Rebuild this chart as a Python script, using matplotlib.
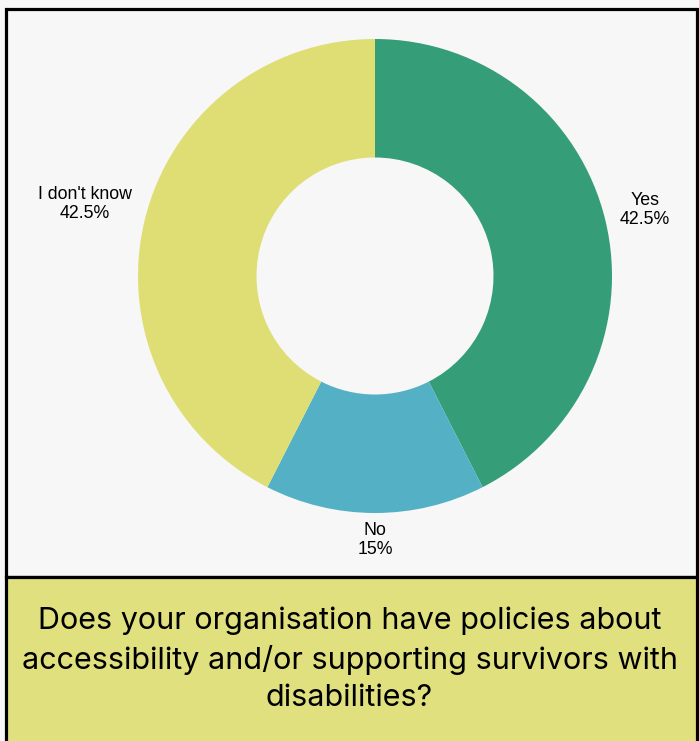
import matplotlib.pyplot as plt
from matplotlib.patches import Rectangle

labels = ["Yes", "No", "I don't know"]
values = [42.5, 15, 42.5]
colors = ["#359e78", "#54b0c5", "#dede74"]
pct_text = ["42.5%", "15%", "42.5%"]
question = "Does your organisation have policies about\naccessibility and/or supporting survivors with\ndisabilities?"

W, H = 699, 741
fig = plt.figure(figsize=(W / 100, H / 100), dpi=100, facecolor="#f7f7f7")

# panels (behind the donut axes)
fig.patches.append(Rectangle((5.5 / W, 1 - 577 / H), 691 / W, 568 / H, transform=fig.transFigure,
                             facecolor="#f7f7f7", edgecolor="black", lw=2.3, zorder=-2))
fig.patches.append(Rectangle((5.5 / W, -0.01), 691 / W, (H - 577) / H + 0.01, transform=fig.transFigure,
                             facecolor="#e0e17e", edgecolor="black", lw=2.3, zorder=-2))

cx, cy, r = 375, 276, 237
ax = fig.add_axes([(cx - r) / W, (H - cy - r) / H, 2 * r / W, 2 * r / H])
ax.pie(values, colors=colors, startangle=90, counterclock=False, radius=1,
       wedgeprops=dict(width=0.5, edgecolor="none"))
ax.set_xlim(-1, 1)
ax.set_ylim(-1, 1)
ax.set_aspect("equal")
ax.axis("off")

label_pos = [(1.139, 0.278), (0.0, -1.114), (-1.224, 0.304)]
for lab, pct, (x, y) in zip(labels, pct_text, label_pos):
    ax.text(x, y, f"{lab}\n{pct}", ha="center", va="center", fontsize=12.8,
            family="Liberation Sans", linespacing=1.2, clip_on=False)

fig.text(0.5, 1 - 659 / H, question, ha="center", va="center", fontsize=22,
         family="Inter", linespacing=1.42)

plt.savefig("out.png", dpi=100, facecolor=fig.get_facecolor())
